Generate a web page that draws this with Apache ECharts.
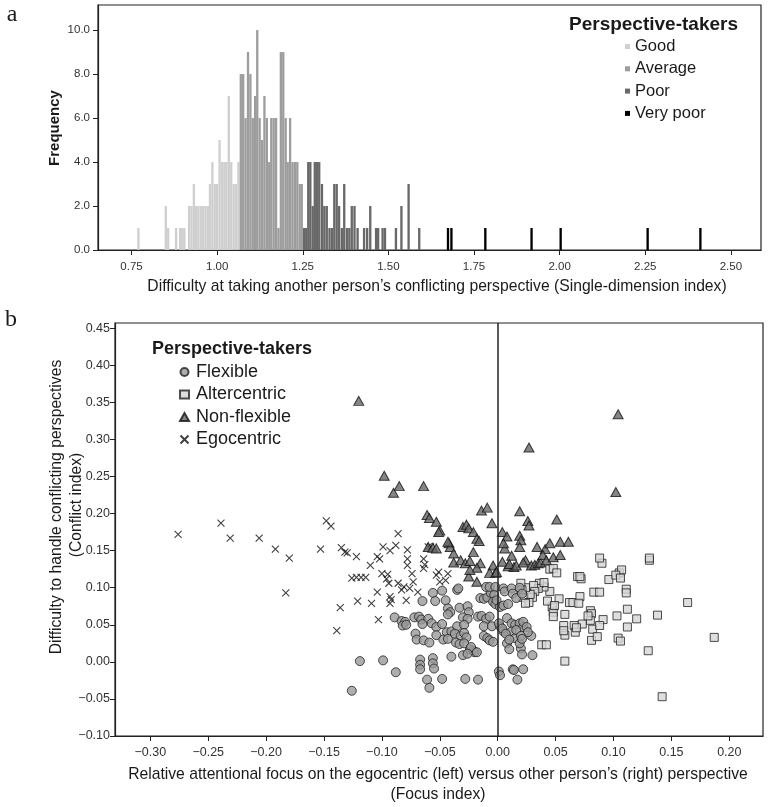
<!DOCTYPE html>
<html><head><meta charset="utf-8">
<script src="https://cdn.jsdelivr.net/npm/echarts@6/dist/echarts.min.js"></script>
<style>html,body{margin:0;padding:0;background:#fff}#c{width:768px;height:807px}</style>
</head><body><div id="c"></div>
<script>
// ---------- Panel a: histogram data ----------
const goodVals   = [0.770,0.850,0.857,0.880,0.892,0.898,0.904,0.918,0.925,0.932,0.938,0.945,0.952,0.959,0.966,0.973,0.979,0.986,0.993,1.000,1.007,1.014,1.021,1.027,1.034,1.041,1.048,1.055,1.062];
const goodCounts = [1,2,1,1,1,1,1,2,2,3,2,2,2,2,2,2,3,4,3,3,5,4,4,4,7,4,3,3,4];
const avgVals    = [1.069,1.076,1.083,1.090,1.097,1.104,1.111,1.117,1.124,1.131,1.138,1.145,1.152,1.158,1.165,1.172,1.179,1.186,1.193,1.200,1.206,1.213,1.220,1.227,1.234,1.241,1.247];
const avgCounts  = [8,8,6,9,8,6,7,10,6,5,7,6,4,6,6,6,1,9,9,6,4,6,4,4,4,3,3];
const poorVals   = [1.254,1.260,1.266,1.272,1.279,1.285,1.291,1.298,1.306,1.313,1.320,1.328,1.335,1.342,1.349,1.356,1.364,1.371,1.379,1.386,1.393,1.401,1.410,1.429,1.438,1.447,1.464,1.470,1.483,1.490,1.522,1.538,1.559,1.590];
const poorCounts = [1,1,4,4,2,4,4,4,3,2,2,1,1,3,3,2,1,3,1,1,2,2,1,1,1,2,1,1,1,1,1,2,3,1];
const vpoorVals  = [1.674,1.684,1.783,1.918,2.003,2.257,2.411];
const vpoorCounts= [1,1,1,1,1,1,1];
const histXTicks = [0.75,1.00,1.25,1.50,1.75,2.00,2.25,2.50];
const histYTicks = [0,2,4,6,8,10];
const histGroups = ['Good','Average','Poor','Very poor'];

// ---------- Panel b: scatter data [focus, conflict] ----------
const flexible = [
[-0.056,0.093],[-0.048,0.096],[-0.035,0.097],[-0.034,0.099],[-0.065,0.082],[-0.054,0.082],[-0.045,0.083],[-0.043,0.072],[-0.041,0.067],[-0.043,0.064],[-0.033,0.073],[-0.026,0.075],[-0.025,0.067],
[-0.015,0.086],[-0.012,0.085],[-0.009,0.087],[-0.006,0.093],[-0.010,0.101],[-0.007,0.101],[-0.002,0.101],[-0.003,0.090],[-0.004,0.081],[-0.002,0.078],
[0.005,0.099],[0.006,0.095],[0.012,0.099],[0.013,0.092],[0.016,0.086],[0.019,0.100],[0.021,0.092],
[-0.001,0.083],[0.002,0.074],[0.005,0.076],[0.009,0.078],
[-0.089,0.060],[-0.083,0.055],[-0.080,0.054],[-0.072,0.060],[-0.068,0.061],[-0.066,0.057],[-0.060,0.058],
[-0.065,0.051],[-0.057,0.052],[-0.053,0.047],[-0.048,0.051],[-0.044,0.040],[-0.040,0.041],[-0.035,0.048],[-0.030,0.060],[-0.026,0.058],[-0.029,0.050],
[-0.017,0.061],[-0.014,0.062],[-0.010,0.058],[-0.007,0.061],[-0.012,0.048],[-0.005,0.048],[0.002,0.048],
[0.008,0.059],[0.012,0.052],[0.015,0.050],[0.019,0.052],[0.022,0.047],
[-0.071,0.038],[-0.070,0.030],[-0.064,0.029],[-0.059,0.026],[-0.053,0.036],[-0.047,0.030],[-0.043,0.031],[-0.037,0.038],[-0.032,0.035],[-0.029,0.039],[-0.027,0.033],
[-0.036,0.026],[-0.033,0.024],[-0.029,0.025],[-0.024,0.017],[-0.021,0.015],[-0.020,0.013],[-0.023,0.020],
[-0.012,0.035],[-0.009,0.032],[-0.007,0.029],[-0.004,0.027],
[0.005,0.041],[0.012,0.041],[0.015,0.032],[0.020,0.018],[0.019,0.025],
[-0.119,0.001],[-0.099,0.002],[-0.056,0.005],[-0.056,-0.002],[-0.055,-0.009],[-0.040,0.007],[-0.088,-0.014],[0.001,-0.013],[0.002,-0.018],[0.013,-0.010],[0.014,-0.011],
[-0.126,-0.039],[-0.082,0.049],[-0.079,0.050],[-0.067,0.003],[-0.067,-0.004],[-0.067,-0.010],[-0.061,-0.024],[-0.059,-0.035],[-0.048,-0.023],[-0.028,-0.023],[-0.017,-0.024],
[0.022,-0.010],[0.017,-0.024],[0.021,0.010],[0.030,0.009],[0.008,0.025],[0.010,0.017],[0.022,0.054],[0.025,0.047],[0.029,0.035],[0.026,0.040],[-0.018,0.013],[-0.030,0.009],[-0.026,0.011],
[0.001,0.052],[0.004,0.045],[0.007,0.038],[0.010,0.030],[0.016,0.043],[0.020,0.035],[0.021,0.031]
];
const altercentric = [
[0.142,-0.047],[0.058,0.001],[0.187,0.033],[0.130,0.015],[0.164,0.080],[0.138,0.063],[0.120,0.058],[0.112,0.047],[0.104,0.032],[0.106,0.028],[0.112,0.071],[0.103,0.062],[0.111,0.098],[0.111,0.093],[0.096,0.111],[0.105,0.120],[0.107,0.124],
[0.083,0.094],[0.088,0.094],[0.091,0.057],[0.080,0.069],[0.081,0.065],[0.080,0.056],[0.082,0.044],[0.081,0.029],[0.088,0.049],[0.086,0.034],[0.073,0.051],[0.078,0.062],[0.066,0.049],[0.067,0.040],[0.068,0.046],
[0.057,0.049],[0.058,0.036],[0.057,0.042],[0.047,0.074],[0.048,0.067],[0.048,0.061],[0.058,0.064],[0.062,0.080],[0.065,0.080],[0.053,0.085],[0.043,0.082],[0.049,0.076],[0.045,0.095],[0.040,0.101],[0.036,0.106],[0.035,0.099],
[0.038,0.023],[0.042,0.023],[0.031,0.103],[0.032,0.095],[0.030,0.087],[0.028,0.091],[0.024,0.100],[0.022,0.087],[0.027,0.080],[0.045,0.125],[0.048,0.126],[0.051,0.120],[0.071,0.088],[0.070,0.079],[0.090,0.133],[0.131,0.137],
[0.069,0.115],[0.072,0.112],[0.088,0.140],[0.131,0.140],[0.071,0.115],[0.102,0.117],[0.106,0.113],[0.040,0.107],[0.020,0.106],[0.021,0.097],[0.024,0.079]
];
const nonFlexible = [
[-0.120,0.352],[-0.098,0.251],[-0.085,0.237],[-0.090,0.228],[-0.064,0.237],[-0.061,0.198],[-0.059,0.194],[-0.053,0.189],[-0.014,0.204],[-0.009,0.208],[-0.005,0.187],[-0.030,0.182],[-0.027,0.185],[0.019,0.203],[0.027,0.289],[0.104,0.334],[0.102,0.229],
[0.004,0.175],[0.008,0.169],[0.019,0.170],[0.020,0.164],[0.026,0.190],[0.027,0.184],[0.051,0.192],[0.006,0.153],[0.012,0.143],[0.009,0.129],[0.014,0.128],[0.024,0.137],[0.029,0.130],[0.032,0.131],[0.035,0.133],[0.037,0.134],
[0.041,0.152],[0.045,0.160],[0.039,0.144],[0.042,0.137],[0.048,0.141],[0.054,0.144],[0.054,0.162],[0.061,0.162],[0.019,0.155],[0.034,0.155],[-0.050,0.177],[-0.025,0.180],[-0.021,0.175],[-0.018,0.166],[-0.016,0.163],
[-0.042,0.160],[-0.041,0.155],[-0.038,0.146],[-0.038,0.134],[-0.032,0.137],[-0.028,0.133],[-0.024,0.136],[-0.021,0.148],[-0.015,0.133],[-0.018,0.127],[-0.004,0.130],[-0.002,0.120],[-0.025,0.115],[-0.024,0.124],[-0.007,0.120],
[-0.060,0.155],[-0.056,0.154],[-0.053,0.153],[-0.051,0.175],[-0.043,0.162],[0.004,0.135],[0.010,0.132],[0.016,0.130],[0.022,0.134],[0.005,0.160],[-0.018,0.108],[-0.001,0.121]
];
const egocentric = [
[-0.276,0.172],[-0.239,0.187],[-0.231,0.167],[-0.206,0.167],[-0.192,0.152],[-0.180,0.140],[-0.183,0.093],[-0.153,0.152],[-0.148,0.190],[-0.144,0.183],[-0.135,0.154],[-0.132,0.148],[-0.130,0.147],[-0.136,0.073],[-0.139,0.042],
[-0.126,0.113],[-0.122,0.114],[-0.118,0.114],[-0.114,0.114],[-0.122,0.142],[-0.110,0.130],[-0.109,0.079],[-0.121,0.082],[-0.104,0.142],[-0.102,0.139],[-0.103,0.057],[-0.104,0.094],[-0.099,0.155],[-0.100,0.119],[-0.096,0.112],[-0.094,0.106],[-0.095,0.118],
[-0.093,0.150],[-0.093,0.088],[-0.093,0.079],[-0.092,0.084],[-0.088,0.157],[-0.086,0.173],[-0.086,0.106],[-0.083,0.097],[-0.081,0.101],[-0.078,0.151],[-0.078,0.139],[-0.078,0.130],[-0.079,0.083],[-0.074,0.119],[-0.073,0.108],[-0.069,0.094],[-0.076,0.099],
[-0.064,0.139],[-0.064,0.126],[-0.063,0.131],[-0.060,0.155],[-0.058,0.155],[-0.053,0.117],[-0.051,0.121],[-0.050,0.108],[-0.045,0.110],[-0.043,0.119]
];
const scatterXTicks = [-0.30,-0.25,-0.20,-0.15,-0.10,-0.05,0.00,0.05,0.10,0.15,0.20];
const scatterYTicks = [-0.10,-0.05,0.00,0.05,0.10,0.15,0.20,0.25,0.30,0.35,0.40,0.45];

// ---------- chart ----------
const FONT = '"Liberation Sans", Arial, sans-serif';
const BIN_W = 0.0068;
const chart = echarts.init(document.getElementById('c'), null, {renderer:'canvas'});
const zip = (a,b) => a.map((v,i)=>[v,b[i]]);
function histSeries(name, vals, counts, color){
  return {
    type:'custom', name, xAxisIndex:0, yAxisIndex:0, animation:false,
    itemStyle:{color},
    encode:{x:0,y:1},
    data: zip(vals,counts),
    renderItem(params, api){
      const x = api.value(0), c = api.value(1);
      const p0 = api.coord([x - BIN_W/2, c]);
      const p1 = api.coord([x + BIN_W/2, 0]);
      return {type:'rect', shape:{x:p0[0], y:p0[1], width:p1[0]-p0[0], height:p1[1]-p0[1]}, style:{fill:color}};
    }
  };
}
const minus = s => s.replace('-', '\u2212');
const axisCommon = {
  axisLine:{show:true, onZero:false, lineStyle:{color:'#222', width:1.2}},
  splitLine:{show:false}
};
const txt = (text, x, y, size, opts={}) => ({
  type:'text', x, y, rotation: opts.rot||0, silent:true,
  style:{text, fill:'#1a1a1a', font:(opts.bold?'bold ':'')+size+'px '+(opts.family||FONT), textAlign:opts.align||'center', textVerticalAlign:'middle'}
});
const TITLE = 15.7;

const option = {
  animation:false,
  backgroundColor:'#fff',
  grid:[
    {left:98, top:5, width:663, height:245, show:true, borderColor:'#222', borderWidth:1.2, containLabel:false},
    {left:115, top:323, width:648, height:413, show:true, borderColor:'#222', borderWidth:1.2, containLabel:false}
  ],
  xAxis:[
    Object.assign({gridIndex:0, type:'value', min:0.652, max:2.588,
      axisTick:{show:true, length:5, customValues:histXTicks, lineStyle:{color:'#222'}},
      axisLabel:{customValues:histXTicks, formatter:v=>v.toFixed(2), fontFamily:FONT, fontSize:11.5, color:'#333', margin:11}}, axisCommon),
    Object.assign({gridIndex:1, type:'value', min:-0.3305, max:0.2291,
      axisTick:{show:true, length:5, customValues:scatterXTicks, lineStyle:{color:'#222'}},
      axisLabel:{customValues:scatterXTicks, formatter:v=>minus(v.toFixed(2)), fontFamily:FONT, fontSize:12.5, color:'#333', margin:10}}, axisCommon)
  ],
  yAxis:[
    Object.assign({gridIndex:0, type:'value', min:0, max:11.14,
      axisTick:{show:true, length:5, customValues:histYTicks, lineStyle:{color:'#222'}},
      axisLabel:{customValues:histYTicks, formatter:v=>v.toFixed(1), fontFamily:FONT, fontSize:11.5, color:'#333', margin:8}}, axisCommon),
    Object.assign({gridIndex:1, type:'value', min:-0.10, max:0.457,
      axisTick:{show:true, length:5, customValues:scatterYTicks, lineStyle:{color:'#222'}},
      axisLabel:{customValues:scatterYTicks, formatter:v=>minus(v.toFixed(2)), fontFamily:FONT, fontSize:12.5, color:'#333', margin:5}}, axisCommon)
  ],
  legend:[
    {data:histGroups, orient:'vertical', left:620, top:33, icon:'rect', itemWidth:5, itemHeight:5, itemGap:5.3, selectedMode:false,
     textStyle:{fontFamily:FONT, fontSize:16.5, color:'#1a1a1a', lineHeight:16, padding:[0,0,0,0]}},
    {data:['Flexible','Altercentric','Non-flexible','Egocentric'], orient:'vertical', left:174, top:358, itemWidth:9, itemHeight:8, itemGap:4.5, selectedMode:false,
     textStyle:{fontFamily:FONT, fontSize:18, color:'#1a1a1a', lineHeight:18, padding:[0,0,0,2]}}
  ],
  series:[
    histSeries('Good', goodVals, goodCounts, '#cfcfcf'),
    histSeries('Average', avgVals, avgCounts, '#9d9d9d'),
    histSeries('Poor', poorVals, poorCounts, '#686868'),
    histSeries('Very poor', vpoorVals, vpoorCounts, '#000000'),
    {type:'scatter', name:'Egocentric', xAxisIndex:1, yAxisIndex:1, data:egocentric,
     symbol:'path://M0,0L10,10M10,0L0,10', symbolSize:7,
     itemStyle:{color:'rgba(0,0,0,0)', borderColor:'#111', borderWidth:1.1}},
    {type:'scatter', name:'Non-flexible', xAxisIndex:1, yAxisIndex:1, data:nonFlexible,
     symbol:'triangle', symbolSize:[10,9],
     itemStyle:{color:'#666666', borderColor:'#111', borderWidth:1}},
    {type:'scatter', name:'Altercentric', xAxisIndex:1, yAxisIndex:1, data:altercentric,
     symbol:'rect', symbolSize:8,
     itemStyle:{color:'#d6d6d6', borderColor:'#222', borderWidth:1}},
    {type:'scatter', name:'Flexible', xAxisIndex:1, yAxisIndex:1, data:flexible,
     symbol:'circle', symbolSize:9,
     itemStyle:{color:'#9a9a9a', borderColor:'#222', borderWidth:1},
     markLine:{silent:true, symbol:['none','none'], label:{show:false}, animation:false,
       lineStyle:{color:'#222', type:'solid', width:1.5}, data:[{xAxis:0}]}}
  ],
  graphic:[
    txt('a', 12, 15, 24, {family:'"Liberation Serif", serif'}),
    txt('b', 11, 320, 24, {family:'"Liberation Serif", serif'}),
    txt('Frequency', 55, 128, 15, {bold:true, rot:Math.PI/2}),
    txt('Difficulty at taking another person\u2019s conflicting perspective (Single-dimension index)', 437, 287, TITLE),
    txt('Perspective-takers', 569, 25, 19, {bold:true, align:'left'}),
    txt('Perspective-takers', 152, 349, 18, {bold:true, align:'left'}),
    txt('Difficulty to handle conflicting perspectives', 57, 507, TITLE, {rot:Math.PI/2}),
    txt('(Conflict index)', 77, 505, TITLE, {rot:Math.PI/2}),
    txt('Relative attentional focus on the egocentric (left) versus other person\u2019s (right) perspective', 438, 775, TITLE),
    txt('(Focus index)', 438, 795, TITLE)
  ]
};
chart.setOption(option);
</script></body></html>
